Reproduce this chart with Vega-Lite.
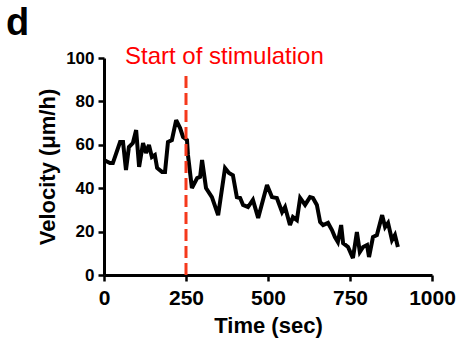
{
  "$schema": "https://vega.github.io/schema/vega-lite/v6.json",
  "width": 328,
  "height": 217,
  "autosize": {"type": "none"},
  "padding": {"left": 104, "top": 58, "right": 25, "bottom": 77},
  "background": "white",
  "config": {
    "view": {"stroke": null},
    "axis": {"grid": false, "domainColor": "black", "domainWidth": 3, "tickColor": "black", "tickWidth": 2.5, "tickSize": 6, "labelFont": "Liberation Sans", "labelFontWeight": "bold", "labelColor": "black", "titleFont": "Liberation Sans", "titleFontWeight": "bold", "titleColor": "black"}
  },
  "datasets": {
    "velocity": [
      {"t": 0, "v": 53}, {"t": 18, "v": 51.6}, {"t": 27, "v": 51.6}, {"t": 49, "v": 61.3}, {"t": 58, "v": 61.3},
      {"t": 67, "v": 48.4}, {"t": 76, "v": 59}, {"t": 88, "v": 60.8}, {"t": 98, "v": 66.8}, {"t": 107, "v": 49.8},
      {"t": 119, "v": 60.8}, {"t": 128, "v": 56.2}, {"t": 137, "v": 59.9}, {"t": 146, "v": 54.4}, {"t": 155, "v": 55.3},
      {"t": 162, "v": 49.3}, {"t": 177, "v": 47.5}, {"t": 186, "v": 47.5}, {"t": 195, "v": 61.3}, {"t": 207, "v": 62.2},
      {"t": 220, "v": 71.4}, {"t": 232, "v": 67.7}, {"t": 241, "v": 63.6}, {"t": 253, "v": 62.2}, {"t": 256, "v": 55.3},
      {"t": 268, "v": 40.1}, {"t": 284, "v": 44.7}, {"t": 293, "v": 45.2}, {"t": 299, "v": 53}, {"t": 311, "v": 40.1},
      {"t": 329, "v": 35.9}, {"t": 348, "v": 27.6}, {"t": 369, "v": 49.3}, {"t": 381, "v": 47}, {"t": 393, "v": 46},
      {"t": 405, "v": 35.9}, {"t": 415, "v": 35.5}, {"t": 424, "v": 32.3}, {"t": 439, "v": 31.3}, {"t": 454, "v": 34.6},
      {"t": 470, "v": 26.3}, {"t": 497, "v": 41.5}, {"t": 512, "v": 35.9}, {"t": 527, "v": 35.5}, {"t": 543, "v": 29},
      {"t": 552, "v": 31.3}, {"t": 567, "v": 23}, {"t": 576, "v": 26.7}, {"t": 588, "v": 25.3}, {"t": 598, "v": 35.5},
      {"t": 613, "v": 32.3}, {"t": 628, "v": 35.9}, {"t": 637, "v": 35.5}, {"t": 649, "v": 32.3}, {"t": 659, "v": 24.4},
      {"t": 668, "v": 23}, {"t": 683, "v": 24}, {"t": 695, "v": 20.7}, {"t": 704, "v": 17.5}, {"t": 713, "v": 15.2},
      {"t": 723, "v": 23}, {"t": 729, "v": 14.7}, {"t": 744, "v": 12.9}, {"t": 759, "v": 7.8}, {"t": 771, "v": 19.8},
      {"t": 780, "v": 10.6}, {"t": 790, "v": 12.9}, {"t": 802, "v": 13.8}, {"t": 808, "v": 8.3}, {"t": 820, "v": 17.5},
      {"t": 832, "v": 18.4}, {"t": 848, "v": 27.6}, {"t": 857, "v": 22.1}, {"t": 866, "v": 24}, {"t": 878, "v": 16.1},
      {"t": 887, "v": 18.4}, {"t": 896, "v": 12.9}
    ],
    "stim": [{"t": 250, "v0": 0, "v1": 92, "label": "Start of stimulation", "lt": 367, "lv": 97.2}],
    "panel": [{"label": "d", "lt": -299, "lv": 110.6}]
  },
  "layer": [
    {
      "data": {"name": "velocity"},
      "mark": {"type": "line", "color": "black", "strokeWidth": 4, "strokeJoin": "miter", "strokeMiterLimit": 3, "clip": false},
      "encoding": {
        "x": {"field": "t", "type": "quantitative", "scale": {"domain": [0, 1000], "nice": false}, "axis": {"values": [0, 250, 500, 750, 1000], "format": "d", "title": "Time (sec)", "titleFontSize": 22, "labelFontSize": 21, "labelPadding": 6, "titlePadding": 7, "labelOverlap": false, "labelFlush": false}},
        "y": {"field": "v", "type": "quantitative", "scale": {"domain": [0, 100], "nice": false}, "axis": {"values": [0, 20, 40, 60, 80, 100], "title": "Velocity (μm/h)", "titleFontSize": 22, "labelFontSize": 17, "labelPadding": 4, "titlePadding": 6}}
      }
    },
    {
      "data": {"name": "stim"},
      "mark": {"type": "rule", "color": "#f5391c", "strokeWidth": 3, "strokeDash": [12, 5]},
      "encoding": {
        "x": {"field": "t", "type": "quantitative"},
        "y": {"field": "v0", "type": "quantitative"},
        "y2": {"field": "v1"}
      }
    },
    {
      "data": {"name": "stim"},
      "mark": {"type": "text", "color": "#ff0000", "font": "Liberation Sans", "fontSize": 24, "align": "center", "baseline": "alphabetic", "clip": false},
      "encoding": {
        "x": {"field": "lt", "type": "quantitative"},
        "y": {"field": "lv", "type": "quantitative"},
        "text": {"field": "label"}
      }
    },
    {
      "data": {"name": "panel"},
      "mark": {"type": "text", "color": "black", "font": "Liberation Sans", "fontSize": 38, "fontWeight": "bold", "align": "left", "baseline": "alphabetic", "clip": false},
      "encoding": {
        "x": {"field": "lt", "type": "quantitative"},
        "y": {"field": "lv", "type": "quantitative"},
        "text": {"field": "label"}
      }
    }
  ]
}
